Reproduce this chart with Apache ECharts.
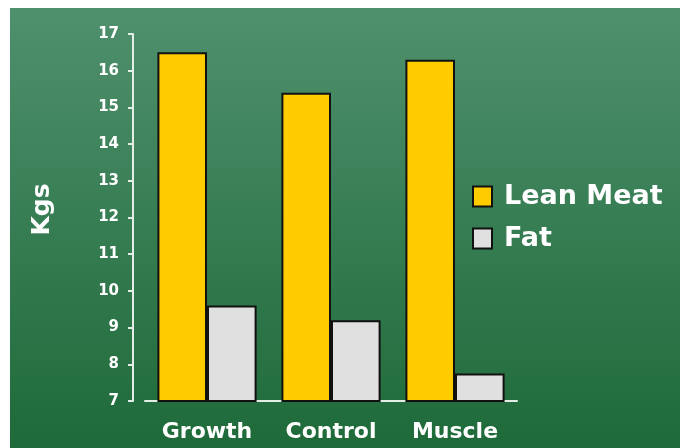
<!DOCTYPE html>
<html>
<head>
<meta charset="utf-8">
<script src="https://cdn.jsdelivr.net/npm/echarts@6/dist/echarts.min.js"></script>
<style>
  html, body { margin: 0; padding: 0; background: #fff; }
  #main { position: absolute; left: 10px; top: 8px; width: 670px; height: 440px; }
</style>
</head>
<body>
<div id="main"></div>
<script>
var categories = ['Growth', 'Control', 'Muscle'];
var leanMeat = [16.5, 15.4, 16.3];
var fat = [9.6, 9.2, 7.75];
var yTicks = [7, 17, 1]; // min, max, step

var myChart = echarts.init(document.getElementById('main'));

var labelFont = 'DejaVu Sans, sans-serif';

var option = {
    backgroundColor: new echarts.graphic.LinearGradient(0, 0, 0, 1, [
        { offset: 0, color: '#4f906d' },
        { offset: 1, color: '#1e6a39' }
    ]),
    animation: false,
    legend: {
        orient: 'vertical',
        left: 462,
        top: 175,
        padding: 0,
        itemWidth: 19,
        itemHeight: 20,
        itemGap: 15,
        icon: 'rect',
        itemStyle: { borderColor: '#111', borderWidth: 2 },
        textStyle: {
            color: '#fff',
            fontSize: 27,
            fontWeight: 'bold',
            fontFamily: labelFont,
            padding: [0, 0, 0, 7]
        },
        data: ['Lean Meat', 'Fat']
    },
    grid: {
        left: 135,
        top: 26,
        width: 372,
        height: 367
    },
    xAxis: {
        type: 'category',
        data: categories,
        axisLine: { lineStyle: { color: '#e3efe6', width: 2 } },
        axisTick: { alignWithLabel: true, length: 5, lineStyle: { color: '#e3efe6', width: 2 } },
        axisLabel: {
            color: '#fff',
            fontSize: 22,
            fontWeight: 'bold',
            fontFamily: labelFont,
            margin: 20
        }
    },
    yAxis: {
        type: 'value',
        min: yTicks[0],
        max: yTicks[1],
        interval: yTicks[2],
        offset: 12,
        name: 'Kgs',
        nameLocation: 'middle',
        nameRotate: 90,
        nameGap: 78,
        nameTextStyle: {
            color: '#fff',
            fontSize: 25,
            fontWeight: 'bold',
            fontFamily: labelFont,
            padding: [0, 0, 0, 16]
        },
        splitLine: { show: false },
        axisLine: { show: true, lineStyle: { color: '#e3efe6', width: 2 } },
        axisTick: { show: true, length: 5, lineStyle: { color: '#e3efe6', width: 2 } },
        axisLabel: {
            color: '#fff',
            fontSize: 15,
            fontWeight: 'bold',
            fontFamily: labelFont,
            margin: 14
        }
    },
    series: [
        {
            name: 'Lean Meat',
            type: 'bar',
            data: leanMeat,
            barGap: '0%',
            barCategoryGap: '20%',
            itemStyle: { color: '#ffcc00', borderColor: '#111', borderWidth: 2 }
        },
        {
            name: 'Fat',
            type: 'bar',
            data: fat,
            itemStyle: { color: '#e0e0e0', borderColor: '#111', borderWidth: 2 }
        }
    ]
};

myChart.setOption(option);
</script>
</body>
</html>
